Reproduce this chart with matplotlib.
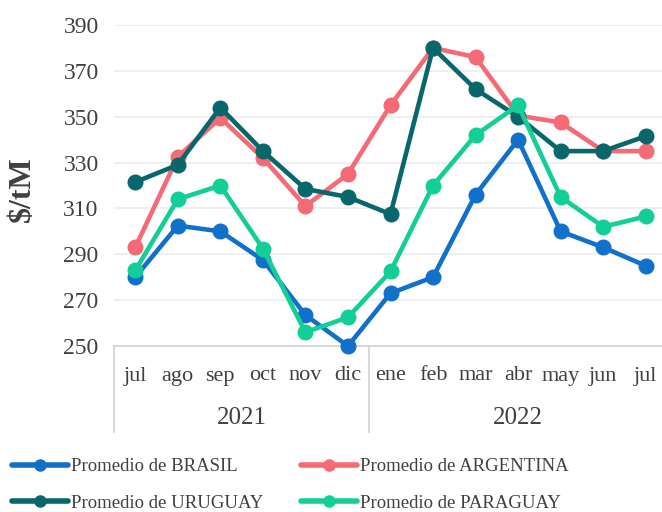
import matplotlib
matplotlib.use("Agg")
import matplotlib.pyplot as plt
import matplotlib.transforms as mtransforms
from matplotlib.lines import Line2D

months = ["jul", "ago", "sep", "oct", "nov", "dic", "ene", "feb", "mar", "abr", "may", "jun", "jul"]
years = ["2021", "2022"]
brasil = [280, 302.5, 300, 287.5, 263.5, 250, 273, 280, 316, 340, 300, 293, 285]
argentina = [293, 332.5, 349.5, 332, 311, 325, 355, 380, 376, 350.5, 347.5, 335, 335]
uruguay = [321.5, 329, 354, 335, 318.5, 315, 307.5, 380, 362, 350, 335, 335, 341.5]
paraguay = [283, 314, 320, 292.5, 256, 262.5, 282.5, 320, 342, 355, 315, 302, 306.5]
yticks = [250, 270, 290, 310, 330, 350, 370, 390]

series = [
    ("Promedio de BRASIL", brasil, "#1170C9"),
    ("Promedio de ARGENTINA", argentina, "#F46A75"),
    ("Promedio de URUGUAY", uruguay, "#07676A"),
    ("Promedio de PARAGUAY", paraguay, "#13CE97"),
]

plt.rcParams["font.family"] = ["Liberation Serif", "DejaVu Serif"]
TXT = "#404040"

W, H = 662, 512
fig = plt.figure(figsize=(W / 100, H / 100), dpi=100)
left, right, bottom, top = 114, 667, 346, 25
ax = fig.add_axes([left / W, 1 - bottom / H, (right - left) / W, (bottom - top) / H])

x = list(range(len(months)))
proxies = {}
for name, vals, col in series:
    ax.plot(x, vals, color=col, lw=3.3, marker="o", ms=10.5, clip_on=False,
            solid_capstyle="round", zorder=3)
    proxies[name] = Line2D([], [], color=col, lw=4, marker="o", ms=8,
                           solid_capstyle="round")

ax.set_xlim(-0.5, len(months) - 0.5)
ax.set_ylim(250, 390)
ax.set_yticks(yticks)
ax.set_yticklabels([str(v) for v in yticks], fontsize=17, color=TXT)
ax.tick_params(axis="y", length=0, pad=11)
ax.set_xticks([])
ax.grid(axis="y", color="#ECECEC", lw=1.2, zorder=0)
ax.set_axisbelow(True)
for s in ["top", "right", "left"]:
    ax.spines[s].set_visible(False)
ax.spines["bottom"].set_color("#D6D6D6")
ax.spines["bottom"].set_linewidth(1.3)

trans = mtransforms.blended_transform_factory(ax.transData, ax.transAxes)
ph = bottom - top
for i, m in enumerate(months):
    ax.text(i, -30 / ph, m, transform=trans, ha="center", va="center",
            fontsize=16, color=TXT)
ax.text(2.5, -72 / ph, years[0], transform=trans, ha="center", va="center",
        fontsize=18, color=TXT)
ax.text(9, -72 / ph, years[1], transform=trans, ha="center", va="center",
        fontsize=18, color=TXT)
for xv in [-0.5, 5.5, len(months) - 0.5]:
    ax.plot([xv, xv], [0, -86 / ph], transform=trans, color="#D6D6D6", lw=1.3,
            clip_on=False)

fig.text(22 / W, 1 - 189 / H, r"\$/tM", rotation=90, ha="center", va="center",
         fontsize=23, fontweight="bold", color=TXT)

order = ["Promedio de BRASIL", "Promedio de URUGUAY", "Promedio de ARGENTINA", "Promedio de PARAGUAY"]
leg = fig.legend(handles=[proxies[n] for n in order], labels=order, loc="upper left",
                 bbox_to_anchor=(12 / W, 1 - 458 / H),
                 ncol=2, frameon=False, fontsize=13.5, handlelength=3.0, handletextpad=0.15,
                 columnspacing=2.0, labelspacing=1.05, borderaxespad=0, borderpad=0)
for t in leg.get_texts():
    t.set_color(TXT)

fig.savefig("out.png", dpi=100)
